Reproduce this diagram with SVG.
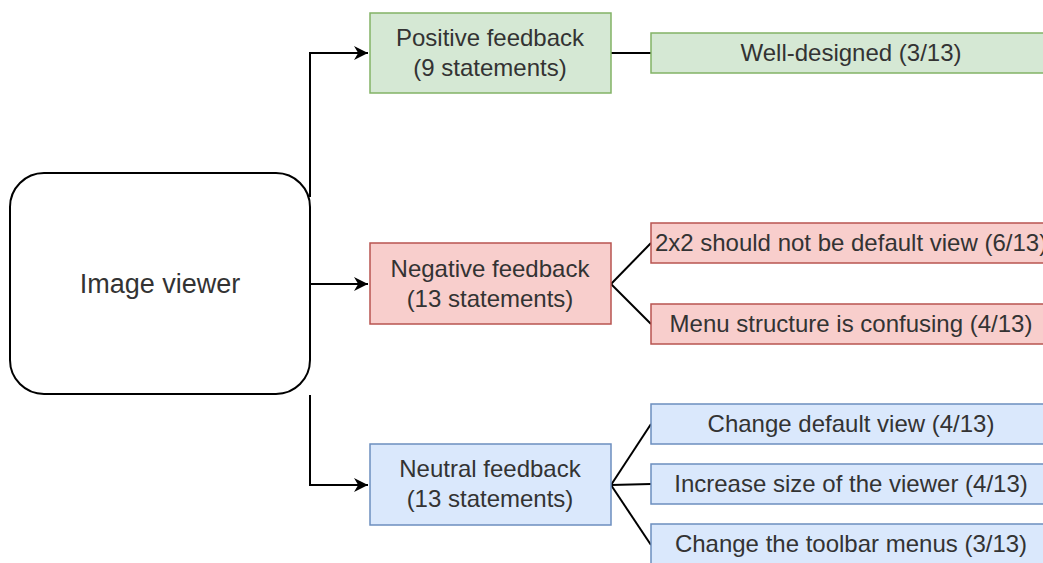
<svg xmlns="http://www.w3.org/2000/svg" width="1043" height="563" viewBox="0 0 1043 563">
  <style>
    text { font-family: "Liberation Sans", Arial, sans-serif; font-size: 24px; fill: #333333; text-anchor: middle; }
    .pos { fill: #d5e8d4; stroke: #82b366; stroke-width: 1.5; }
    .neg { fill: #f8cecc; stroke: #b85450; stroke-width: 1.5; }
    .neu { fill: #dae8fc; stroke: #6c8ebf; stroke-width: 1.5; }
    .link { fill: none; stroke: #000000; stroke-width: 2; }
  </style>
  <defs>
    <marker id="arrow" viewBox="0 0 10 10" refX="10" refY="5" markerWidth="7" markerHeight="7" markerUnits="strokeWidth" orient="auto">
      <path d="M0,0 L10,5 L0,10 L3,5 Z" fill="#000000"/>
    </marker>
  </defs>
  <rect width="1043" height="563" fill="#ffffff"/>

  <g id="connectors">
    <path class="link" d="M310,197 V53 H368" marker-end="url(#arrow)"/>
    <path class="link" d="M310,284 H368" marker-end="url(#arrow)"/>
    <path class="link" d="M310,395 V485 H368" marker-end="url(#arrow)"/>
    <path class="link" d="M611,53 H651"/>
    <path class="link" d="M611,284 L651,243"/>
    <path class="link" d="M611,284 L651,324"/>
    <path class="link" d="M611,485 L651,424"/>
    <path class="link" d="M611,485 L651,484"/>
    <path class="link" d="M611,485 L651,545"/>
  </g>

  <g id="image-viewer">
    <rect x="10" y="173" width="300" height="221" rx="34" ry="34" fill="#ffffff" stroke="#000000" stroke-width="2"/>
    <text x="160" y="293" style="font-size:27px">Image viewer</text>
  </g>

  <g id="positive">
    <rect class="pos" x="370" y="13" width="241" height="80"/>
    <text x="490" y="46">Positive feedback</text>
    <text x="490" y="76">(9 statements)</text>
  </g>
  <g id="positive-1">
    <rect class="pos" x="651" y="33" width="400" height="40"/>
    <text x="851" y="61">Well-designed (3/13)</text>
  </g>

  <g id="negative">
    <rect class="neg" x="370" y="243" width="241" height="81"/>
    <text x="490" y="277">Negative feedback</text>
    <text x="490" y="307">(13 statements)</text>
  </g>
  <g id="negative-1">
    <rect class="neg" x="651" y="223" width="400" height="40"/>
    <text x="851" y="251">2x2 should not be default view (6/13)</text>
  </g>
  <g id="negative-2">
    <rect class="neg" x="651" y="304" width="400" height="40"/>
    <text x="851" y="332">Menu structure is confusing (4/13)</text>
  </g>

  <g id="neutral">
    <rect class="neu" x="370" y="444" width="241" height="81"/>
    <text x="490" y="477">Neutral feedback</text>
    <text x="490" y="507">(13 statements)</text>
  </g>
  <g id="neutral-1">
    <rect class="neu" x="651" y="404" width="400" height="40"/>
    <text x="851" y="432">Change default view (4/13)</text>
  </g>
  <g id="neutral-2">
    <rect class="neu" x="651" y="464" width="400" height="40"/>
    <text x="851" y="492">Increase size of the viewer (4/13)</text>
  </g>
  <g id="neutral-3">
    <rect class="neu" x="651" y="524" width="400" height="40"/>
    <text x="851" y="552">Change the toolbar menus (3/13)</text>
  </g>
</svg>
